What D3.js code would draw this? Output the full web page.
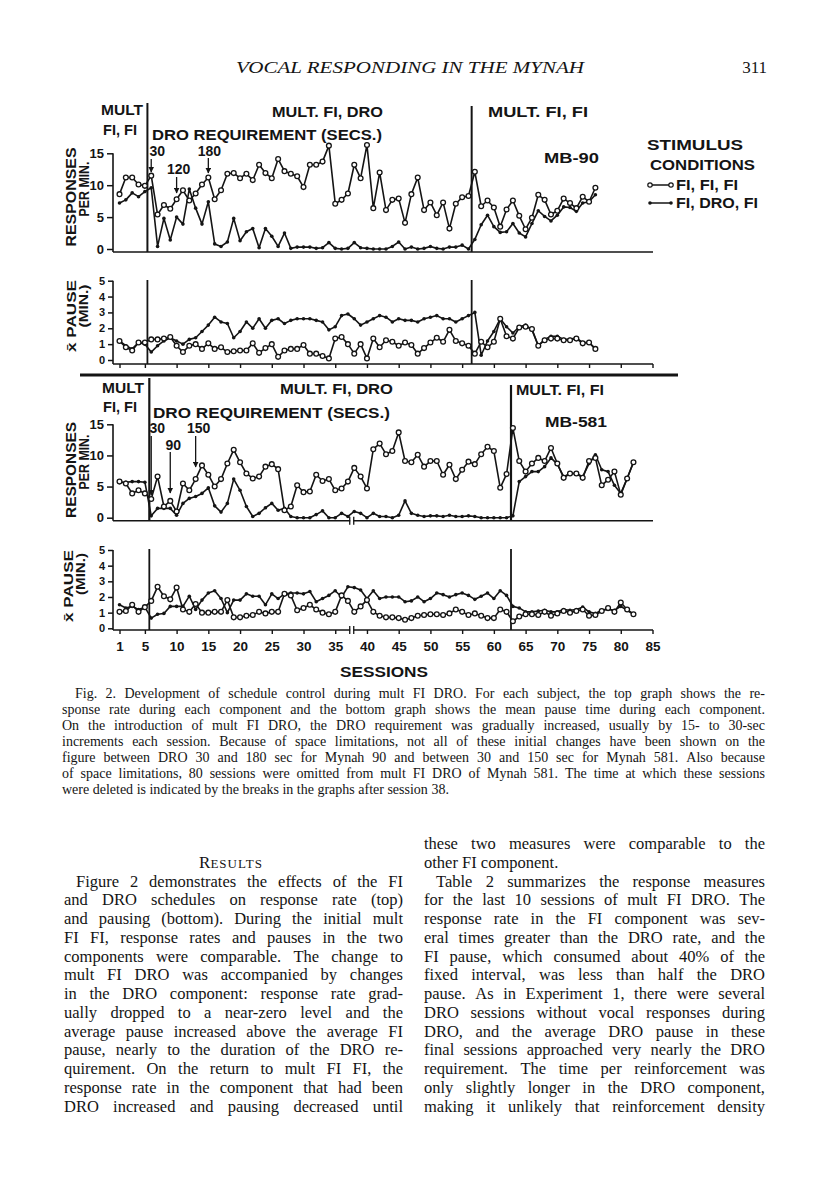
<!DOCTYPE html>
<html>
<head>
<meta charset="utf-8">
<script src="https://cdn.jsdelivr.net/npm/d3@7"></script>
<style>
  html, body { margin: 0; padding: 0; background: #fff; }
  svg { display: block; }
</style>
</head>
<body>
<svg id="page" width="816" height="1200"></svg>
<script>
// ---- 1. Values ----
const sessionTicks = [1, 5, 10, 15, 20, 25, 30, 35, 40, 45, 50, 55, 60, 65, 70, 75, 80, 85];
const rateTicks = [0, 5, 10, 15];
const pauseTicks = [0, 1, 2, 3, 4, 5];

// Mynah 90, sessions 1..76
const mb90RateFI = [8.6, 11.2, 11.2, 10.1, 9.9, 11.5, 5.4, 6.9, 6.3, 7.8,
  9.2, 7.6, 8.7, 10.1, 11.2, 7.8, 9.2, 11.8, 11.9, 11.1,
  11.8, 10.8, 13.2, 11.9, 11.1, 14.1, 12.2, 11.8, 11.4, 9.7,
  13.2, 13.2, 13.7, 16.2, 7.1, 7.7, 8.7, 13.2, 11.1, 16.3,
  6.4, 12.0, 6.1, 7.7, 7.9, 4.1, 8.6, 11.2, 6.1, 7.3,
  5.3, 7.3, 3.2, 7.1, 8.1, 8.3, 12.1, 6.7, 7.6, 6.5,
  3.5, 6.2, 7.6, 5.2, 3.1, 4.9, 8.5, 7.7, 5.4, 6.0,
  7.9, 7.2, 6.4, 8.2, 7.4, 9.6];
const mb90RateDRO = [7.2, 7.7, 8.8, 8.2, 9.0, 9.6, 0.4, 4.8, 1.4, 5.0,
  3.9, 9.4, 6.4, 3.9, 7.4, 0.8, 0.4, 1.1, 4.8, 1.3,
  2.7, 3.2, 0.2, 3.2, 2.0, 0.4, 2.5, 0.1, 0.3, 0.3,
  0.3, 0.1, 0.2, 1.0, 0.1, 0.0, 0.1, 1.0, 0.2, 0.1,
  0.0, 0.0, 0.0, 0.4, 1.1, 0.0, 0.3, 0.0, 0.1, 0.4,
  0.1, 0.0, 0.3, 0.3, 0.6, 0.0, 1.5, 3.8, 5.3, 3.5,
  2.6, 2.7, 4.0, 2.5, 1.9, 4.0, 6.0, 5.1, 4.4, 5.3,
  6.6, 6.5, 5.9, 7.2, 7.4, 8.5];
const mb90PauseFI = [1.2, 0.8, 0.6, 1.1, 1.1, 1.3, 1.3, 1.35, 1.45, 0.9,
  0.5, 0.9, 1.0, 0.7, 1.05, 0.7, 0.8, 0.5, 0.55, 0.6,
  0.6, 1.05, 0.45, 0.75, 1.0, 0.2, 0.6, 0.7, 0.7, 0.95,
  0.4, 0.4, 0.25, 0.1, 1.35, 1.45, 1.0, 0.4, 1.0, 0.1,
  1.35, 0.8, 1.25, 1.15, 0.9, 1.1, 0.95, 0.4, 0.75, 1.1,
  1.4, 1.15, 1.9, 1.2, 1.05, 0.9, 0.4, 1.15, 0.8, 1.15,
  2.6, 1.5, 1.35, 2.05, 2.1, 1.95, 0.9, 1.25, 1.35, 1.35,
  1.25, 1.25, 1.35, 1.05, 1.1, 0.7];
const mb90PauseDRO = [1.2, 0.9, 0.7, 1.1, 1.0, 0.5, 0.9, 1.2, 1.4, 1.2,
  1.0, 1.3, 1.4, 1.8, 2.2, 2.7, 2.4, 2.3, 1.4, 1.8,
  2.4, 2.0, 2.6, 2.0, 2.5, 2.6, 2.3, 2.5, 2.6, 2.6,
  2.6, 2.5, 2.4, 1.9, 2.1, 2.8, 2.9, 2.6, 2.2, 2.4,
  2.6, 2.8, 2.7, 2.4, 2.6, 2.5, 2.5, 2.4, 2.6, 2.7,
  2.8, 2.6, 2.6, 2.4, 2.6, 2.8, 3.0, 0.3, 1.2, 1.8,
  2.6, 2.1, 1.7, 2.1, 2.2, 1.9, 0.9, 1.3, 1.5, 1.5,
  1.3, 1.3, 1.4, 1.1, 1.1, 0.7];

// Mynah 581, sessions 1..82
const mb581RateFI = [5.8, 5.5, 3.9, 4.4, 3.9, 3.0, 6.6, 1.8, 2.7, 1.0,
  5.5, 4.4, 6.2, 8.4, 6.9, 5.0, 6.2, 8.7, 10.9, 8.9,
  7.1, 6.3, 6.6, 8.2, 8.6, 7.8, 1.2, 1.8, 5.2, 4.1,
  4.2, 6.9, 5.9, 6.2, 4.4, 4.7, 5.8, 8.0, 6.6, 4.7,
  11.0, 11.9, 10.2, 10.7, 13.7, 9.1, 8.9, 10.1, 8.2, 9.1,
  9.1, 6.9, 8.5, 6.2, 7.7, 9.0, 8.6, 10.2, 11.4, 10.7,
  4.8, 7.0, 14.4, 9.1, 7.4, 8.7, 9.6, 9.1, 11.2, 8.7,
  6.4, 7.1, 7.1, 6.4, 9.1, 9.6, 5.2, 6.1, 7.4, 3.7,
  6.3, 8.9];
const mb581RateDRO = [5.7, 5.7, 5.8, 5.8, 5.7, 0.3, 1.5, 1.5, 1.5, 0.4,
  2.3, 3.1, 3.4, 3.9, 4.8, 1.9, 0.9, 2.3, 6.2, 4.4,
  1.8, 0.2, 0.7, 1.6, 2.3, 1.2, 1.5, 0.2, 0.0, 0.0,
  0.0, 0.5, 1.1, 0.0, 0.0, 0.7, 0.2, 1.0, 0.7, 0.0,
  0.7, 0.2, 0.2, 0.0, 0.4, 2.7, 0.7, 0.4, 0.2, 0.3,
  0.3, 0.2, 0.4, 0.2, 0.2, 0.3, 0.2, 0.0, 0.0, 0.0,
  0.0, 0.0, 0.3, 5.8, 6.6, 7.4, 7.4, 8.2, 9.6, 8.6,
  6.6, 7.1, 7.1, 6.6, 8.7, 10.1, 7.7, 7.4, 5.2, 3.9,
  6.3, 8.9];
const mb581PauseFI = [1.05, 1.1, 1.5, 1.05, 1.35, 1.75, 2.65, 2.05, 1.85, 2.6,
  1.2, 1.05, 1.55, 1.0, 1.0, 1.05, 1.05, 1.8, 0.7, 0.7,
  0.8, 0.85, 1.05, 0.95, 1.05, 1.05, 2.2, 2.1, 1.15, 1.3,
  1.5, 1.2, 1.0, 0.9, 1.05, 2.1, 1.75, 1.05, 1.4, 1.8,
  1.05, 0.8, 0.7, 0.7, 0.65, 0.55, 0.65, 0.8, 0.85, 0.9,
  0.9, 0.85, 0.95, 1.2, 1.05, 0.85, 0.95, 0.8, 0.65, 0.65,
  1.2, 1.05, 0.45, 0.75, 0.9, 0.9, 0.85, 1.05, 0.8, 0.95,
  1.1, 1.0, 1.1, 1.2, 0.8, 0.85, 1.1, 1.3, 1.05, 1.65,
  1.2, 0.9];
const mb581PauseDRO = [1.5, 1.3, 1.4, 1.2, 1.35, 0.65, 0.9, 0.95, 1.4, 1.4,
  1.4, 2.05, 1.2, 1.8, 2.25, 2.4, 1.9, 1.0, 1.8, 1.8,
  2.2, 2.05, 2.05, 1.5, 2.2, 1.9, 2.2, 2.25, 2.25, 2.2,
  2.35, 1.7, 1.9, 2.1, 2.4, 2.0, 2.65, 2.6, 2.45, 1.9,
  2.4, 1.9, 2.0, 2.0, 2.0, 1.7, 1.75, 2.0, 1.7, 1.9,
  2.25, 2.15, 2.0, 2.15, 2.25, 2.1, 1.85, 2.05, 2.25, 1.9,
  2.4, 2.1, 1.4, 1.3, 1.05, 1.05, 1.1, 1.15, 1.05, 1.05,
  1.2, 1.15, 1.2, 1.35, 1.05, 0.95, 1.15, 1.2, 1.15, 1.4,
  1.15, 0.9];

// condition changes (in sessions) and the break in the 581 record
const phase90 = [5.4, 56.5];
const phase581 = [5.7, 62.7];
const break581 = 37.6;

// DRO requirement annotations
const droLabels90 = ["30", "120", "180"];
const droSessions90 = [6, 10, 15];
const droLabels581 = ["30", "90", "150"];
const droSessions581 = [6, 9, 13];

// text of the page
const captionLines = [
  "Fig. 2. Development of schedule control during mult FI DRO. For each subject, the top graph shows the re-",
  "sponse rate during each component and the bottom graph shows the mean pause time during each component.",
  "On the introduction of mult FI DRO, the DRO requirement was gradually increased, usually by 15- to 30-sec",
  "increments each session. Because of space limitations, not all of these initial changes have been shown on the",
  "figure between DRO 30 and 180 sec for Mynah 90 and between 30 and 150 sec for Mynah 581. Also because",
  "of space limitations, 80 sessions were omitted from mult FI DRO of Mynah 581. The time at which these sessions",
  "were deleted is indicated by the breaks in the graphs after session 38."
];
const leftColumn = [
  "Figure 2 demonstrates the effects of the FI",
  "and DRO schedules on response rate (top)",
  "and pausing (bottom). During the initial mult",
  "FI FI, response rates and pauses in the two",
  "components were comparable. The change to",
  "mult FI DRO was accompanied by changes",
  "in the DRO component: response rate grad-",
  "ually dropped to a near-zero level and the",
  "average pause increased above the average FI",
  "pause, nearly to the duration of the DRO re-",
  "quirement. On the return to mult FI FI, the",
  "response rate in the component that had been",
  "DRO increased and pausing decreased until"
];
const rightColumn = [
  "these two measures were comparable to the",
  "other FI component.",
  "Table 2 summarizes the response measures",
  "for the last 10 sessions of mult FI DRO. The",
  "response rate in the FI component was sev-",
  "eral times greater than the DRO rate, and the",
  "FI pause, which consumed about 40% of the",
  "fixed interval, was less than half the DRO",
  "pause. As in Experiment 1, there were several",
  "DRO sessions without vocal responses during",
  "DRO, and the average DRO pause in these",
  "final sessions approached very nearly the DRO",
  "requirement. The time per reinforcement was",
  "only slightly longer in the DRO component,",
  "making it unlikely that reinforcement density"
];

// ---- 2. Page setup ----
const SANS = "'Liberation Sans', Arial, sans-serif";
const SERIF = "'Liberation Serif', 'Times New Roman', serif";
const INK = "#141414";
const svg = d3.select("#page");
svg.append("rect").attr("width", 816).attr("height", 1200).attr("fill", "#fff");

svg.append("defs").append("marker")
  .attr("id", "arrow")
  .attr("viewBox", "0 0 10 10")
  .attr("refX", 9).attr("refY", 5)
  .attr("markerWidth", 4.5).attr("markerHeight", 4.5)
  .attr("orient", "auto")
  .append("path").attr("d", "M0,0 L10,5 L0,10 z").attr("fill", INK);

const x = d3.scaleLinear().domain([1, 85]).range([119.5, 652.5]);
const AXIS_X = 113;
const AXIS_END = 653;

const yRate90 = d3.scaleLinear().domain([0, 15]).range([249, 153.3]);
const yPause90 = d3.scaleLinear().domain([0, 5]).range([360, 280.7]);
const yRate581 = d3.scaleLinear().domain([0, 15]).range([517.7, 424.3]);
const yPause581 = d3.scaleLinear().domain([0, 5]).range([628.3, 550]);

function label(txt, x0, base, len, size, anchor) {
  const t = svg.append("text")
    .attr("x", x0).attr("y", base)
    .attr("font-family", SANS).attr("font-weight", "bold")
    .attr("font-size", size).attr("fill", INK)
    .attr("text-anchor", anchor || "start")
    .text(txt);
  if (len) t.attr("textLength", len).attr("lengthAdjust", "spacingAndGlyphs");
  return t;
}

function vLabel(txt, cx, cy, len, size) {
  svg.append("text")
    .attr("transform", `translate(${cx},${cy}) rotate(-90)`)
    .attr("text-anchor", "middle").attr("dy", "0.35em")
    .attr("font-family", SANS).attr("font-weight", "bold")
    .attr("font-size", size).attr("fill", INK)
    .attr("textLength", len).attr("lengthAdjust", "spacingAndGlyphs")
    .text(txt);
}

function hLine(x1, x2, yy, w) {
  svg.append("line").attr("x1", x1).attr("x2", x2).attr("y1", yy).attr("y2", yy)
    .attr("stroke", INK).attr("stroke-width", w || 1.6);
}
function vLine(xx, y1, y2, w) {
  svg.append("line").attr("x1", xx).attr("x2", xx).attr("y1", y1).attr("y2", y2)
    .attr("stroke", INK).attr("stroke-width", w || 1.6);
}

function yAxis(y, ticks, size, base, tick) {
  const g = svg.append("g")
    .attr("transform", `translate(${AXIS_X},0)`)
    .call(d3.axisLeft(y).tickValues(ticks).tickFormat(d3.format("d"))
      .tickSize(tick).tickSizeOuter(0).tickPadding(3));
  g.select(".domain").remove();
  g.selectAll("line").attr("stroke", INK).attr("stroke-width", 1.5);
  g.selectAll("text").attr("font-family", SANS).attr("font-weight", "bold")
    .attr("font-size", size).attr("fill", INK);
  vLine(AXIS_X, y(d3.max(ticks)), base, 1.6);
}

function xAxis(base, withLabels) {
  const ax = d3.axisBottom(x).tickValues(sessionTicks).tickSize(4).tickSizeOuter(0).tickPadding(7);
  if (!withLabels) ax.tickFormat("");
  const g = svg.append("g").attr("transform", `translate(0,${base})`).call(ax);
  g.select(".domain").remove();
  g.selectAll("line").attr("stroke", INK).attr("stroke-width", 1.4);
  g.selectAll("text").attr("font-family", SANS).attr("font-weight", "bold")
    .attr("font-size", 13.5).attr("fill", INK);
  hLine(AXIS_X, AXIS_END, base, 1.6);
}

function series(y, values, open) {
  const pts = values.map((v, i) => ({ s: i + 1, v }));
  const line = d3.line().x(d => x(d.s)).y(d => y(d.v));
  svg.append("path").datum(pts)
    .attr("d", line).attr("fill", "none")
    .attr("stroke", INK).attr("stroke-width", 1.6).attr("stroke-linejoin", "round");
  svg.append("g").selectAll("circle").data(pts).join("circle")
    .attr("cx", d => x(d.s)).attr("cy", d => y(d.v))
    .attr("r", open ? 2.4 : 1.8)
    .attr("fill", open ? "#fff" : INK)
    .attr("stroke", INK).attr("stroke-width", open ? 1.3 : 0);
}

function breakMark(base) {
  const bx = x(break581);
  svg.append("rect").attr("x", bx - 1.5).attr("y", base - 2).attr("width", 3).attr("height", 4).attr("fill", "#fff");
  vLine(bx - 2, base - 4, base + 4, 1.3);
  vLine(bx + 2, base - 4, base + 4, 1.3);
}

function droArrows(labels, sessions, tips, starts, labelBase, labelDx) {
  labels.forEach((lab, i) => {
    const ax = x(sessions[i]);
    svg.append("line").attr("x1", ax).attr("x2", ax)
      .attr("y1", starts[i]).attr("y2", tips[i])
      .attr("stroke", INK).attr("stroke-width", 1.3)
      .attr("marker-end", "url(#arrow)");
    label(lab, ax + labelDx[i], labelBase[i], null, 14, "middle");
  });
}

// ---- 3. Mynah 90 ----
yAxis(yRate90, rateTicks, 13, 252, 6);
hLine(AXIS_X, AXIS_END, 252);
phase90.forEach((p, i) => vLine(x(p), i === 0 ? 103 : 106, 252, 2));
series(yRate90, mb90RateDRO, false);
series(yRate90, mb90RateFI, true);

yAxis(yPause90, pauseTicks, 11, 364, 5);
xAxis(364, false);
phase90.forEach(p => vLine(x(p), 280, 364, 1.8));
series(yPause90, mb90PauseDRO, false);
series(yPause90, mb90PauseFI, true);

label("MULT", 101, 115, 42, 15);
label("FI, FI", 103, 135, 34, 14);
label("MULT. FI, DRO", 272, 117, 111, 15);
label("DRO REQUIREMENT (SECS.)", 152, 140, 230, 15);
label("MULT. FI, FI", 488, 117, 100, 15);
label("MB-90", 544, 163, 55, 15);
droArrows(droLabels90, droSessions90, [172, 193, 173], [159, 177, 158], [156, 174, 156], [6, 2, 1]);

label("STIMULUS", 647, 150, 96, 15);
label("CONDITIONS", 650, 170, 105, 15);
[[185, true], [203, false]].forEach(([ly, open]) => {
  hLine(650, 671, ly, 1.5);
  [650, 671].forEach(cx => svg.append("circle").attr("cx", cx).attr("cy", ly)
    .attr("r", open ? 2.2 : 1.8).attr("fill", open ? "#fff" : INK)
    .attr("stroke", INK).attr("stroke-width", open ? 1.2 : 0));
});
label("FI, FI, FI", 676, 190, 62, 14);
label("FI, DRO, FI", 676, 208, 82, 14);

vLabel("RESPONSES", 71, 197, 99, 14);
vLabel("PER MIN.", 84, 189, 55, 14);
vLabel("x\u0304 PAUSE", 71, 316, 72, 13);
vLabel("(MIN.)", 84, 306, 43, 12);

// separator between the two birds
hLine(80, 678, 375, 3);

// ---- 4. Mynah 581 ----
yAxis(yRate581, rateTicks, 13, 520.7, 6);
hLine(AXIS_X, AXIS_END, 520.7);
breakMark(520.7);
phase581.forEach((p, i) => vLine(x(p), i === 0 ? 378 : 385, 521, 2.2));
series(yRate581, mb581RateDRO, false);
series(yRate581, mb581RateFI, true);

yAxis(yPause581, pauseTicks, 11, 630, 5);
xAxis(630, true);
breakMark(630);
phase581.forEach(p => vLine(x(p), 549, 630, 1.8));
series(yPause581, mb581PauseDRO, false);
series(yPause581, mb581PauseFI, true);

label("MULT", 102, 393, 42, 15);
label("FI, FI", 103, 412, 34, 14);
label("MULT. FI, DRO", 280, 394, 113, 15);
label("DRO REQUIREMENT (SECS.)", 153, 418, 237, 15);
label("MULT. FI, FI", 516, 395, 88, 15);
label("MB-581", 545, 427, 62, 15);
droArrows(droLabels581, droSessions581, [495, 493, 467], [436, 452, 436], [433, 450, 433], [6, 3, 3]);

vLabel("RESPONSES", 71, 470, 96, 14);
vLabel("PER MIN.", 84, 462, 55, 14);
vLabel("x\u0304 PAUSE", 68, 586, 72, 13);
vLabel("(MIN.)", 81, 574, 42, 12);

label("SESSIONS", 384, 677, 88, 14, "middle");

// ---- 5. Running head, caption and text ----
svg.append("text").attr("x", 236).attr("y", 73)
  .attr("font-family", SERIF).attr("font-style", "italic")
  .attr("font-size", 17.5).attr("fill", INK)
  .attr("textLength", 348).attr("lengthAdjust", "spacingAndGlyphs")
  .text("VOCAL RESPONDING IN THE MYNAH");
svg.append("text").attr("x", 767).attr("y", 73).attr("text-anchor", "end")
  .attr("font-family", SERIF).attr("font-size", 17).attr("fill", INK).text("311");

const measurer = svg.append("text").attr("font-family", SERIF).attr("visibility", "hidden");
function wordWidth(w, size) {
  measurer.attr("font-size", size).text(w);
  return measurer.node().getComputedTextLength();
}

function textBlock(lines, x0, x1, base0, step, size, indentRows, raggedRows, indent) {
  lines.forEach((ln, i) => {
    const words = ln.split(" ");
    const widths = words.map(w => wordWidth(w, size));
    const start = x0 + (indentRows.includes(i) ? indent : 0);
    const natural = d3.sum(widths);
    const space = wordWidth("a a", size) - 2 * wordWidth("a", size);
    let gap = raggedRows.includes(i) || words.length < 2
      ? space
      : (x1 - start - natural) / (words.length - 1);
    gap = Math.max(gap, space * 0.5);
    const t = svg.append("text").attr("y", base0 + i * step)
      .attr("font-family", SERIF).attr("font-size", size).attr("fill", INK);
    let cx = start;
    words.forEach((w, j) => {
      t.append("tspan").attr("x", cx).text(w);
      cx += widths[j] + gap;
    });
  });
}

textBlock(captionLines, 62, 765, 698, 16, 14, [0], [6], 13);

// Results heading in small capitals
const res = svg.append("text").attr("x", 231).attr("y", 868).attr("text-anchor", "middle")
  .attr("font-family", SERIF).attr("fill", INK);
res.append("tspan").attr("font-size", 17).text("R");
res.append("tspan").attr("font-size", 13).attr("letter-spacing", 1).text("ESULTS");

textBlock(leftColumn, 64, 403, 886.5, 18.75, 16.5, [0], [], 12);
textBlock(rightColumn, 424, 765, 849, 18.75, 16.5, [2], [1], 12);
measurer.remove();
</script>
</body>
</html>
